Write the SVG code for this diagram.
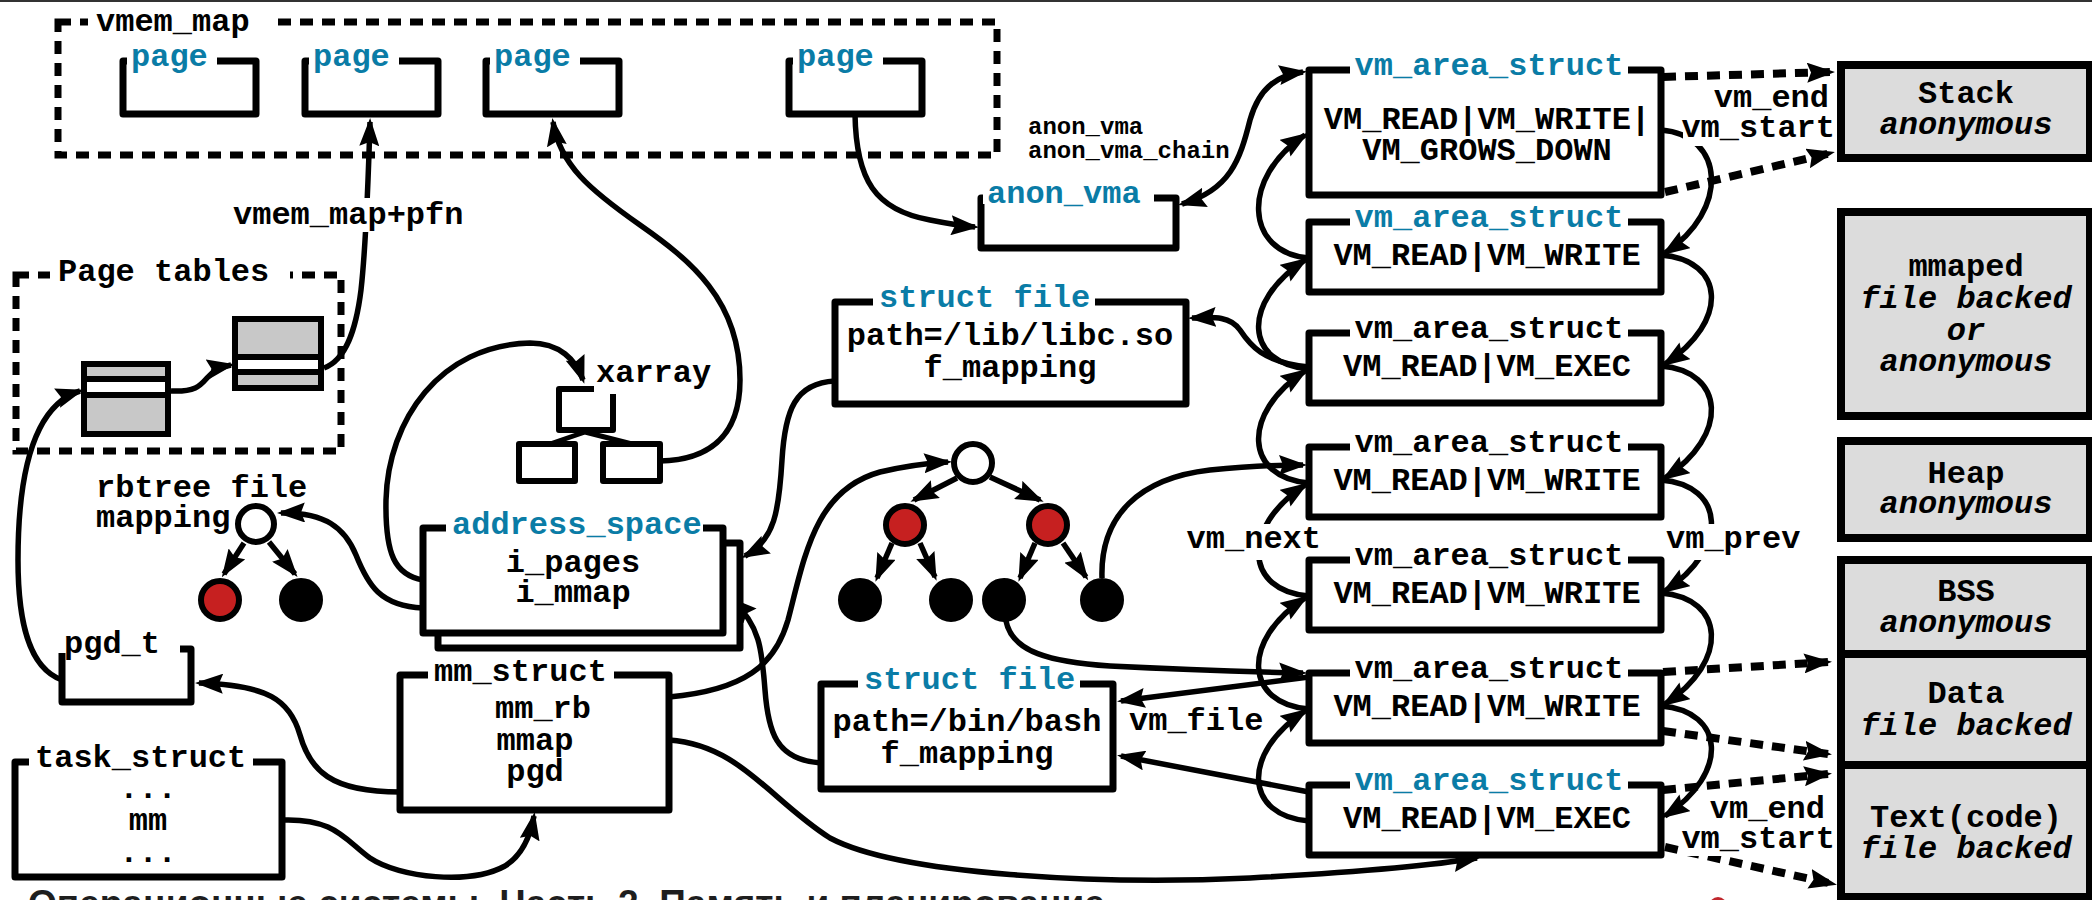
<svg xmlns="http://www.w3.org/2000/svg" width="2092" height="900" viewBox="0 0 2092 900">
<defs>
<marker id="ah" viewBox="0 0 28 20" markerWidth="28" markerHeight="20" refX="24" refY="10" orient="auto" markerUnits="userSpaceOnUse"><path d="M0,0 L28,10 L0,20 L4,10 z" fill="#000"/></marker>
<marker id="ahs" viewBox="0 0 28 20" markerWidth="28" markerHeight="20" refX="24" refY="10" orient="auto-start-reverse" markerUnits="userSpaceOnUse"><path d="M0,0 L28,10 L0,20 L4,10 z" fill="#000"/></marker>
<style>
.t{font-family:"Liberation Mono","Courier New",monospace;font-weight:bold;font-size:32px;fill:#000}
.blue{fill:#0a7ca6}
.sm{font-size:24px}
.it{font-style:italic}
.c{text-anchor:middle}
.e{text-anchor:end}
.box{fill:#fff;stroke:#000;stroke-width:7;stroke-linejoin:round}
.box6{fill:#fff;stroke:#000;stroke-width:6;stroke-linejoin:round}
.seg{fill:#dcdcdc;stroke:#000;stroke-width:8}
.dash{fill:none;stroke:#000;stroke-width:7;stroke-dasharray:13 9}
.bg{fill:#fff}
.ln{fill:none;stroke:#000;stroke-width:5.5;marker-end:url(#ah)}
.pl{fill:none;stroke:#000;stroke-width:5}
.dl{fill:none;stroke:#000;stroke-width:8;stroke-dasharray:13 9;marker-end:url(#ah)}
.red{fill:#c62020;stroke:#000;stroke-width:6}
.blk{fill:#000;stroke:#000;stroke-width:6}
.wht{fill:#fff;stroke:#000;stroke-width:6}
.cap{font-family:"Liberation Sans",Arial,sans-serif;font-weight:bold;font-size:37px;fill:#1e1e1e}
</style>
</defs>
<rect width="2092" height="900" fill="#fff"/>
<rect x="0" y="0" width="2092" height="2" fill="#333"/>

<!-- connectors -->
<g id="connectors">
  <!-- page tables walk -->
  <path class="ln" d="M171,391 C195,392 200,386 207,378 C213,371 220,367 231,365"/>
  <path class="ln" d="M324,368 C346,360 356,330 361,290 C366,245 368,190 370,122"/>
  <path class="ln" d="M62,680 C28,668 18,620 18,560 C18,470 35,405 80,391"/>
  <!-- mm_struct links -->
  <path class="ln" d="M400,792 C330,792 310,770 300,735 C290,700 268,685 199,683"/>
  <path class="ln" d="M282,820 C335,818 345,840 370,858 C400,878 470,885 505,866 C521,856 530,838 534,816"/>
  <path class="ln" d="M669,697 C745,690 775,665 788,620 C805,555 815,490 880,472 C910,465 930,463 948,462"/>
  <path class="ln" d="M669,740 C740,745 770,800 830,838 C900,875 1100,885 1250,878 C1360,872 1430,866 1477,858"/>
  <!-- address_space links -->
  <path class="ln" d="M423,580 C395,575 385,555 386,500 C388,420 440,345 530,343 C560,343 576,360 583,380"/>
  <path class="ln" d="M423,608 C380,606 368,585 356,555 C345,528 325,512 281,513"/>
  <path class="ln" d="M835,381 C795,383 785,410 782,460 C779,510 775,540 745,556"/>
  <path class="ln" d="M821,763 C775,760 768,730 765,690 C762,650 760,625 732,600"/>
  <!-- page links -->
  <path class="ln" d="M855,114 C856,180 875,210 930,220 C950,224 962,226 975,227"/>
  <path class="ln" d="M660,461 C705,460 740,440 740,380 C740,300 690,260 640,225 C590,190 560,165 553,122"/>
  <!-- anon_vma <-> vma -->
  <path class="ln" marker-start="url(#ahs)" d="M1182,204 C1230,190 1240,160 1250,120 C1260,85 1280,75 1303,72"/>
  <!-- vm_file links -->
  <path class="ln" d="M1309,367 C1262,362 1250,345 1240,330 C1230,316 1215,317 1192,318"/>
  <path class="ln" d="M1309,677 L1121,701"/>
  <path class="ln" d="M1309,792 L1121,756"/>
  <!-- rbtree leaves to vmas -->
  <path class="ln" d="M1102,578 C1100,515 1140,478 1210,470 C1250,466 1280,465 1303,465"/>
  <path class="ln" d="M1006,621 C1012,652 1050,662 1110,666 C1190,670 1260,672 1303,673"/>
  <!-- vm_next chain -->
  <path class="ln" d="M1309,258 C1245,253 1240,178 1305,135"/>
  <path class="ln" d="M1309,369 C1245,364 1240,303 1305,260"/>
  <path class="ln" d="M1309,483 C1245,478 1240,414 1305,371"/>
  <path class="ln" d="M1309,596 C1245,591 1240,528 1305,485"/>
  <path class="ln" d="M1309,709 C1245,704 1240,641 1305,598"/>
  <path class="ln" d="M1309,821 C1245,816 1240,754 1305,711"/>
  <!-- vm_prev chain -->
  <path class="ln" d="M1661,130 C1725,135 1730,210 1665,253"/>
  <path class="ln" d="M1661,255 C1725,260 1730,321 1665,364"/>
  <path class="ln" d="M1661,366 C1725,371 1730,435 1665,478"/>
  <path class="ln" d="M1661,480 C1725,485 1730,548 1665,591"/>
  <path class="ln" d="M1661,593 C1725,598 1730,661 1665,704"/>
  <path class="ln" d="M1661,706 C1725,711 1730,773 1665,816"/>
  <!-- vm_start / vm_end bounds -->
  <path class="dl" d="M1663,77 L1831,72"/>
  <path class="dl" d="M1665,192 L1831,153"/>
  <path class="dl" d="M1663,672 L1828,662"/>
  <path class="dl" d="M1663,731 L1828,754"/>
  <path class="dl" d="M1663,790 L1828,774"/>
  <path class="dl" d="M1665,847 L1833,884"/>
  <!-- tree edges -->
  <path class="ln" d="M957,478 L914,500"/>
  <path class="ln" d="M990,477 L1040,500"/>
  <path class="ln" d="M892,543 L877,578"/>
  <path class="ln" d="M920,543 L935,577"/>
  <path class="ln" d="M1035,543 L1020,578"/>
  <path class="ln" d="M1063,543 L1086,577"/>
  <path class="ln" d="M244,543 L224,574"/>
  <path class="ln" d="M269,542 L295,574"/>
  <path class="pl" d="M585,432 L550,444 M585,432 L632,444"/>
  <!-- connector labels -->
  <rect class="bg" x="229" y="198" width="238" height="34"/>
  <text class="t" x="233" y="224">vmem_map+pfn</text>
  <rect class="bg" x="1708" y="86" width="124" height="27"/>
  <text class="t e" x="1829" y="107">vm_end</text>
  <rect class="bg" x="1683" y="116" width="154" height="30"/>
  <text class="t e" x="1835" y="137">vm_start</text>
  <text class="t sm" x="1028" y="134">anon_vma</text>
  <text class="t sm" x="1028" y="158">anon_vma_chain</text>
  <rect class="bg" x="1181" y="524" width="142" height="36"/>
  <text class="t e" x="1321" y="548">vm_next</text>
  <rect class="bg" x="1665" y="524" width="142" height="36"/>
  <text class="t" x="1666" y="548">vm_prev</text>
  <text class="t" x="1129" y="730">vm_file</text>
  <rect class="bg" x="1707" y="797" width="124" height="27"/>
  <text class="t e" x="1825" y="818">vm_end</text>
  <rect class="bg" x="1679" y="827" width="157" height="29"/>
  <text class="t e" x="1835" y="848">vm_start</text>
</g>

<!-- vmem_map with struct page entries -->
<g id="vmem_map">
  <rect class="dash" x="58" y="22" width="939" height="133"/>
  <rect class="bg" x="88" y="10" width="190" height="26"/>
  <text class="t" x="96" y="31">vmem_map</text>
</g>
<g id="page1"><rect class="box" x="123" y="61" width="133" height="53"/><rect class="bg" x="127" y="54" width="90" height="13"/><text class="t blue" x="131" y="66">page</text></g>
<g id="page2"><rect class="box" x="305" y="61" width="133" height="53"/><rect class="bg" x="309" y="54" width="90" height="13"/><text class="t blue" x="313" y="66">page</text></g>
<g id="page3"><rect class="box" x="486" y="61" width="133" height="53"/><rect class="bg" x="490" y="54" width="90" height="13"/><text class="t blue" x="494" y="66">page</text></g>
<g id="page4"><rect class="box" x="789" y="61" width="133" height="53"/><rect class="bg" x="793" y="54" width="90" height="13"/><text class="t blue" x="797" y="66">page</text></g>

<!-- page tables -->
<g id="page_tables">
  <rect class="dash" x="16" y="275" width="325" height="176"/>
  <rect class="bg" x="50" y="262" width="240" height="24"/>
  <text class="t" x="58" y="281">Page tables</text>
</g>
<g id="pt_level1">
  <rect x="84" y="364" width="84" height="70" fill="#c8c8c8"/>
  <rect x="84" y="379" width="84" height="16" fill="#fff"/>
  <path d="M84,379H168M84,395H168" stroke="#000" stroke-width="6"/>
  <rect x="84" y="364" width="84" height="70" fill="none" stroke="#000" stroke-width="6"/>
</g>
<g id="pt_level2">
  <rect x="235" y="319" width="86" height="69" fill="#c8c8c8"/>
  <rect x="235" y="357" width="86" height="15" fill="#fff"/>
  <path d="M235,357H321M235,372H321" stroke="#000" stroke-width="6"/>
  <rect x="235" y="319" width="86" height="69" fill="none" stroke="#000" stroke-width="6"/>
</g>

<!-- xarray -->
<g id="xarray">
  <rect class="box6" x="559" y="389" width="54" height="41"/>
  <rect class="box6" x="519" y="444" width="56" height="37"/>
  <rect class="box6" x="603" y="444" width="57" height="37"/>
  <rect class="bg" x="594" y="360" width="120" height="34"/>
  <text class="t" x="596" y="382">xarray</text>
</g>

<!-- rbtree of file mappings -->
<g id="rbtree_file">
  <text class="t" x="96" y="497">rbtree file</text>
  <text class="t" x="96" y="527">mapping</text>
  <circle class="wht" cx="256" cy="524" r="18"/>
  <circle class="red" cx="220" cy="600" r="19"/>
  <circle class="blk" cx="301" cy="600" r="19"/>
</g>

<!-- address_space -->
<g id="address_space">
  <rect class="box" x="438" y="543" width="302" height="105"/>
  <rect class="box" x="423" y="528" width="300" height="105"/>
  <rect class="bg" x="446" y="520" width="257" height="14"/>
  <text class="t blue" x="452" y="534">address_space</text>
  <text class="t c" x="573" y="572">i_pages</text>
  <text class="t c" x="573" y="602">i_mmap</text>
</g>

<!-- struct file: libc -->
<g id="file_libc">
  <rect class="box" x="835" y="302" width="351" height="102"/>
  <rect class="bg" x="873" y="294" width="222" height="14"/>
  <text class="t blue" x="879" y="307">struct file</text>
  <text class="t c" x="1010" y="345">path=/lib/libc.so</text>
  <text class="t c" x="1010" y="377">f_mapping</text>
</g>

<!-- struct file: bash -->
<g id="file_bash">
  <rect class="box" x="821" y="684" width="292" height="105"/>
  <rect class="bg" x="858" y="676" width="222" height="14"/>
  <text class="t blue" x="864" y="689">struct file</text>
  <text class="t c" x="967" y="731">path=/bin/bash</text>
  <text class="t c" x="967" y="763">f_mapping</text>
</g>

<!-- anon_vma -->
<g id="anon_vma">
  <rect class="box" x="981" y="198" width="195" height="50"/>
  <rect class="bg" x="983" y="190" width="171" height="14"/>
  <text class="t blue" x="987" y="203">anon_vma</text>
</g>

<!-- mm_struct -->
<g id="mm_struct">
  <rect class="box" x="400" y="675" width="269" height="135"/>
  <rect class="bg" x="428" y="667" width="186" height="14"/>
  <text class="t" x="434" y="681">mm_struct</text>
  <text class="t c" x="543" y="718">mm_rb</text>
  <text class="t c" x="535" y="750">mmap</text>
  <text class="t c" x="535" y="781">pgd</text>
</g>

<!-- task_struct -->
<g id="task_struct">
  <rect class="box" x="15" y="762" width="267" height="115"/>
  <rect class="bg" x="29" y="754" width="224" height="14"/>
  <text class="t" x="35" y="767">task_struct</text>
  <text class="t c" x="148" y="798">...</text>
  <text class="t c" x="148" y="830">mm</text>
  <text class="t c" x="148" y="862">...</text>
</g>

<!-- pgd_t -->
<g id="pgd_t">
  <rect class="box" x="62" y="649" width="129" height="53"/>
  <rect class="bg" x="58" y="632" width="122" height="21"/>
  <text class="t" x="64" y="653">pgd_t</text>
</g>

<!-- rbtree of vmas -->
<g id="rbtree_vma">
  <circle class="wht" cx="973" cy="463" r="19"/>
  <circle class="red" cx="905" cy="525" r="19"/>
  <circle class="red" cx="1048" cy="525" r="19"/>
  <circle class="blk" cx="860" cy="600" r="19"/>
  <circle class="blk" cx="951" cy="600" r="19"/>
  <circle class="blk" cx="1004" cy="600" r="19"/>
  <circle class="blk" cx="1102" cy="600" r="19"/>
</g>

<!-- vm_area_struct list -->
<g id="vma1">
  <rect class="box" x="1309" y="70" width="352" height="125"/>
  <rect class="bg" x="1350" y="62" width="278" height="14"/>
  <text class="t blue c" x="1489" y="75">vm_area_struct</text>
  <text class="t c" x="1487" y="129">VM_READ|VM_WRITE|</text>
  <text class="t c" x="1487" y="160">VM_GROWS_DOWN</text>
</g>
<g id="vma2">
  <rect class="box" x="1309" y="222" width="352" height="70"/>
  <rect class="bg" x="1350" y="214" width="278" height="14"/>
  <text class="t blue c" x="1489" y="227">vm_area_struct</text>
  <text class="t c" x="1487" y="265">VM_READ|VM_WRITE</text>
</g>
<g id="vma3">
  <rect class="box" x="1309" y="333" width="352" height="70"/>
  <rect class="bg" x="1350" y="325" width="278" height="14"/>
  <text class="t c" x="1489" y="338">vm_area_struct</text>
  <text class="t c" x="1487" y="376">VM_READ|VM_EXEC</text>
</g>
<g id="vma4">
  <rect class="box" x="1309" y="447" width="352" height="70"/>
  <rect class="bg" x="1350" y="439" width="278" height="14"/>
  <text class="t c" x="1489" y="452">vm_area_struct</text>
  <text class="t c" x="1487" y="490">VM_READ|VM_WRITE</text>
</g>
<g id="vma5">
  <rect class="box" x="1309" y="560" width="352" height="70"/>
  <rect class="bg" x="1350" y="552" width="278" height="14"/>
  <text class="t c" x="1489" y="565">vm_area_struct</text>
  <text class="t c" x="1487" y="603">VM_READ|VM_WRITE</text>
</g>
<g id="vma6">
  <rect class="box" x="1309" y="673" width="352" height="70"/>
  <rect class="bg" x="1350" y="665" width="278" height="14"/>
  <text class="t c" x="1489" y="678">vm_area_struct</text>
  <text class="t c" x="1487" y="716">VM_READ|VM_WRITE</text>
</g>
<g id="vma7">
  <rect class="box" x="1309" y="785" width="352" height="70"/>
  <rect class="bg" x="1350" y="777" width="278" height="14"/>
  <text class="t blue c" x="1489" y="790">vm_area_struct</text>
  <text class="t c" x="1487" y="828">VM_READ|VM_EXEC</text>
</g>

<!-- address space segments -->
<g id="seg_stack">
  <rect class="seg" x="1841" y="65" width="249" height="93"/>
  <text class="t c" x="1966" y="103">Stack</text>
  <text class="t c it" x="1966" y="134">anonymous</text>
</g>
<g id="seg_mmap">
  <rect class="seg" x="1841" y="212" width="249" height="204"/>
  <text class="t c" x="1966" y="276">mmaped</text>
  <text class="t c it" x="1966" y="308">file backed</text>
  <text class="t c it" x="1966" y="340">or</text>
  <text class="t c it" x="1966" y="371">anonymous</text>
</g>
<g id="seg_heap">
  <rect class="seg" x="1841" y="441" width="249" height="97"/>
  <text class="t c" x="1966" y="483">Heap</text>
  <text class="t c it" x="1966" y="513">anonymous</text>
</g>
<g id="seg_bss">
  <rect class="seg" x="1841" y="560" width="249" height="94"/>
  <text class="t c" x="1966" y="601">BSS</text>
  <text class="t c it" x="1966" y="632">anonymous</text>
</g>
<g id="seg_data">
  <rect class="seg" x="1841" y="654" width="249" height="111"/>
  <text class="t c" x="1966" y="703">Data</text>
  <text class="t c it" x="1966" y="735">file backed</text>
</g>
<g id="seg_text">
  <rect class="seg" x="1841" y="765" width="249" height="132"/>
  <text class="t c" x="1966" y="827">Text(code)</text>
  <text class="t c it" x="1966" y="858">file backed</text>
</g>

<!-- footer -->
<text class="cap" x="28" y="916">Операционные системы. Часть 2. Память и планирование</text>
<circle cx="1718" cy="906" r="9" fill="#c0272d"/>
</svg>
